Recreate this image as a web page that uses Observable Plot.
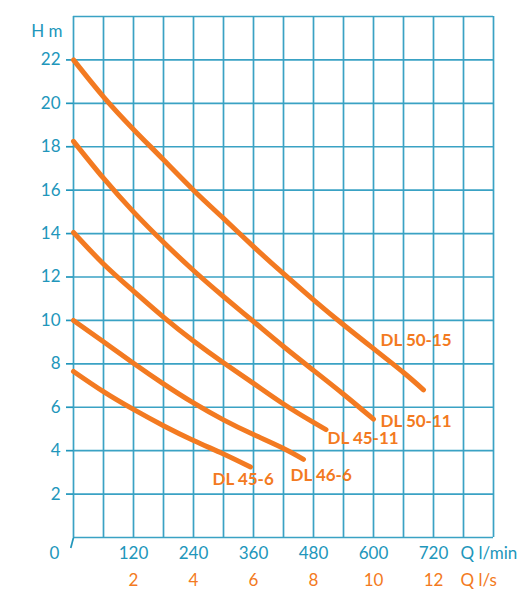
<!DOCTYPE html>
<html>
<head>
<meta charset="utf-8">
<script src="https://cdn.jsdelivr.net/npm/d3@7"></script>
<script src="https://cdn.jsdelivr.net/npm/@observablehq/plot@0.6"></script>
<style>
  html, body { margin: 0; padding: 0; background: #fff; }
  #chart { width: 525px; height: 593px; }
</style>
</head>
<body>
<div id="chart"></div>
<script>
// ---- data ----
const seriesNames = ["DL 50-15", "DL 50-11", "DL 45-11", "DL 46-6", "DL 45-6"];

const q5015 = [0, 60, 120, 180, 240, 300, 360, 420, 480, 540, 600, 660, 700];
const h5015 = [22.0, 20.3, 18.8, 17.4, 16.0, 14.7, 13.4, 12.15, 10.95, 9.8, 8.7, 7.6, 6.8];

const q5011 = [0, 60, 120, 180, 240, 300, 360, 420, 480, 540, 600];
const h5011 = [18.25, 16.55, 15.0, 13.6, 12.3, 11.1, 9.95, 8.8, 7.7, 6.6, 5.45];

const q4511 = [0, 60, 120, 180, 240, 300, 360, 420, 480, 505];
const h4511 = [14.05, 12.6, 11.35, 10.15, 9.05, 8.05, 7.1, 6.15, 5.3, 4.97];

const q466 = [0, 60, 120, 180, 240, 300, 360, 420, 460];
const h466 = [10.0, 9.02, 8.03, 7.08, 6.2, 5.42, 4.74, 4.1, 3.6];

const q456 = [0, 60, 120, 180, 240, 300, 354];
const h456 = [7.65, 6.72, 5.9, 5.15, 4.47, 3.85, 3.25];

// label anchor points (data units: l/min, m)
const labelQ = [614, 614, 508, 434, 278];
const labelH = [9.07, 5.34, 4.56, 2.86, 2.67];

// axes / grid
const xGrid = [0, 60, 120, 180, 240, 300, 360, 420, 480, 540, 600, 660, 720, 780, 840];
const yGrid = [0, 2, 4, 6, 8, 10, 12, 14, 16, 18, 20, 22, 24];
const yTicks = [2, 4, 6, 8, 10, 12, 14, 16, 18, 20, 22];
const qMinTicks = [120, 240, 360, 480, 600, 720];
const qSecTicks = [2, 4, 6, 8, 10, 12];

// ---- build ----
const teal = "#2196BB";
const gridTeal = "#3AA2C4";
const orange = "#F37A21";

const qs = [q5015, q5011, q4511, q466, q456];
const hs = [h5015, h5011, h4511, h466, h456];
const rows = [];
seriesNames.forEach((s, i) => qs[i].forEach((q, j) => rows.push({series: s, q, h: hs[i][j]})));
const labels = seriesNames.map((s, i) => ({text: s, q: labelQ[i], h: labelH[i]}));

const chart = Plot.plot({
  width: 525,
  height: 593,
  marginLeft: 73,
  marginRight: 32,
  marginTop: 16,
  marginBottom: 56,
  x: {domain: [0, 840]},
  y: {domain: [0, 24]},
  style: {fontFamily: "Lato, 'Open Sans', sans-serif", background: "#fff", color: teal, fontSize: "17px"},
  marks: [
    Plot.ruleX(xGrid, {x: d => d, stroke: gridTeal, strokeWidth: 1.7}),
    Plot.ruleY(yGrid, {y: d => d, stroke: gridTeal, strokeWidth: 1.7}),
    Plot.axisY({ticks: yTicks, tickSize: 7, tickPadding: 6, fontSize: 17, label: null, strokeWidth: 1.7}),
    Plot.axisX({ticks: [], label: null}),
    Plot.text(qMinTicks, {x: d => d, frameAnchor: "bottom", dy: 21, fill: teal, fontSize: 17}),
    Plot.text(qSecTicks, {x: d => d * 60, frameAnchor: "bottom", dy: 48, fill: orange, fontSize: 17}),
    Plot.text(["0"], {x: () => 0, frameAnchor: "bottom", dx: -19, dy: 21, fill: teal, fontSize: 17}),
    Plot.text(["Q l/min"], {x: () => 840, frameAnchor: "bottom", dx: -33, dy: 21, textAnchor: "start", fill: teal, fontSize: 17}),
    Plot.text(["Q l/s"], {x: () => 840, frameAnchor: "bottom", dx: -33, dy: 48, textAnchor: "start", fill: orange, fontSize: 17}),
    Plot.text(["H m"], {x: () => 0, frameAnchor: "top", dx: -11, dy: 8, textAnchor: "end", fill: teal, fontSize: 17}),
    Plot.link([0], {x1: () => 0, y1: () => 0, x2: () => -5.5, y2: () => -0.48, stroke: teal, strokeWidth: 1.7}),
    Plot.line(rows, {x: "q", y: "h", z: "series", stroke: orange, strokeWidth: 5, curve: "natural", strokeLinecap: "round", strokeLinejoin: "round"}),
    Plot.text(labels, {x: "q", y: "h", text: "text", textAnchor: "start", fill: orange, fontWeight: "bold", fontSize: 17})
  ]
});
document.getElementById("chart").appendChild(chart);
</script>
</body>
</html>
